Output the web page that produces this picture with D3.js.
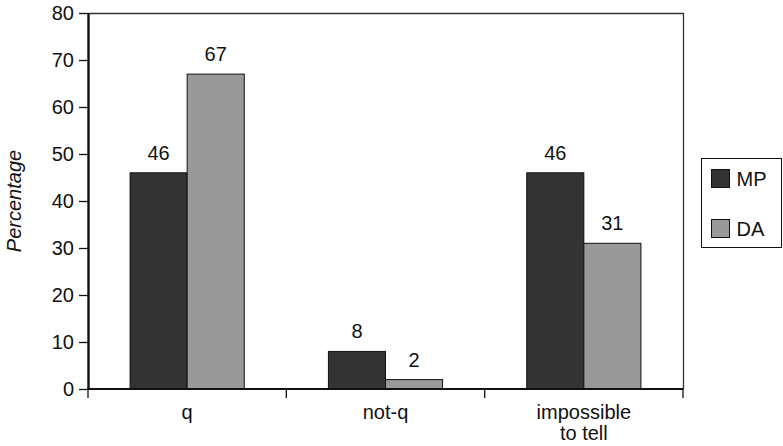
<!DOCTYPE html>
<html>
<head>
<meta charset="utf-8">
<script src="https://cdn.jsdelivr.net/npm/d3@7"></script>
<style>
  html, body { margin: 0; padding: 0; background: #fff; }
  svg { display: block; font-family: "Liberation Sans", Arial, sans-serif; }
</style>
</head>
<body>
<svg id="chart" width="783" height="446"></svg>
<script>
// Response percentages per answer category
const categories = ["q", "not-q", "impossible to tell"];
const categoryLines = [["q"], ["not-q"], ["impossible", "to tell"]];
const seriesNames = ["MP", "DA"];
const mpValues = [46, 8, 46];
const daValues = [67, 2, 31];
const yTicks = [0, 10, 20, 30, 40, 50, 60, 70, 80];
const colors = { MP: "#333333", DA: "#999999" };

const svg = d3.select("#chart");
const plotLeft = 88, plotRight = 683, plotTop = 13, plotBottom = 389;
const fontSize = 20;

const x = d3.scaleBand().domain(categories).range([plotLeft, plotRight]).paddingInner(0).paddingOuter(0);
const inner = d3.scaleBand().domain(seriesNames).range([0, x.bandwidth()]).paddingInner(0).paddingOuter(0.737);
const y = d3.scaleLinear().domain([0, 80]).range([plotBottom, plotTop]);

// Frame: top and right edges
svg.append("path")
  .attr("d", `M${plotLeft},${plotTop + 0.5}H${plotRight + 0.5}V${plotBottom}`)
  .attr("fill", "none").attr("stroke", "#333").attr("stroke-width", 1.3);

// Bars
const data = categories.map((c, i) => ({ cat: c, values: [
  { key: "MP", v: mpValues[i] }, { key: "DA", v: daValues[i] } ] }));

const groups = svg.append("g").selectAll("g").data(data).join("g")
  .attr("transform", d => `translate(${x(d.cat)},0)`);

groups.selectAll("rect").data(d => d.values).join("rect")
  .attr("x", d => inner(d.key))
  .attr("width", inner.bandwidth())
  .attr("y", d => y(d.v))
  .attr("height", d => y(0) - y(d.v))
  .attr("fill", d => colors[d.key])
  .attr("stroke", "#111").attr("stroke-width", 1);

groups.selectAll("text").data(d => d.values).join("text")
  .attr("x", d => inner(d.key) + inner.bandwidth() / 2)
  .attr("y", d => y(d.v) - 13)
  .attr("text-anchor", "middle")
  .attr("font-size", fontSize)
  .attr("fill", "#111")
  .text(d => d.v);

// Y axis
const yAxis = svg.append("g").attr("transform", `translate(${plotLeft},0)`)
  .call(d3.axisLeft(y).tickValues(yTicks).tickSize(9).tickPadding(5).tickSizeOuter(0));
yAxis.select(".domain").attr("stroke", "#111").attr("stroke-width", 2.4);
yAxis.selectAll(".tick line").attr("stroke", "#111").attr("stroke-width", 1.3);
yAxis.selectAll(".tick text").attr("font-size", fontSize).attr("fill", "#111")
  .attr("font-family", "Liberation Sans, Arial, sans-serif");

// X axis with ticks at category boundaries
const xAxisG = svg.append("g");
xAxisG.append("line").attr("x1", plotLeft - 1).attr("x2", plotRight + 0.5)
  .attr("y1", plotBottom).attr("y2", plotBottom)
  .attr("stroke", "#111").attr("stroke-width", 2);
const boundaries = categories.map(c => x(c)).concat([x(categories[categories.length - 1]) + x.bandwidth()]);
xAxisG.selectAll("line.b").data(boundaries).join("line").attr("class", "b")
  .attr("x1", d => d).attr("x2", d => d)
  .attr("y1", plotBottom).attr("y2", plotBottom + 9)
  .attr("stroke", "#111").attr("stroke-width", 1.3);

const xl = xAxisG.selectAll("text").data(categories).join("text")
  .attr("text-anchor", "middle")
  .attr("font-size", fontSize)
  .attr("fill", "#111")
  .attr("transform", d => `translate(${x(d) + x.bandwidth() / 2},${plotBottom + 30})`);
xl.selectAll("tspan").data((d, i) => categoryLines[i]).join("tspan")
  .attr("x", 0).attr("dy", (d, i) => i === 0 ? 0 : 21).text(d => d);

// Y axis title
svg.append("text")
  .attr("transform", `translate(21,${(plotTop + plotBottom) / 2}) rotate(-90)`)
  .attr("text-anchor", "middle")
  .attr("font-size", fontSize).attr("font-style", "italic").attr("fill", "#111")
  .text("Percentage");

// Legend
const legend = svg.append("g");
legend.append("rect").attr("x", 701.5).attr("y", 158.5).attr("width", 80).attr("height", 89)
  .attr("fill", "#fff").attr("stroke", "#111").attr("stroke-width", 1);
const items = legend.selectAll("g").data(seriesNames).join("g")
  .attr("transform", (d, i) => `translate(711.5,${169.5 + i * 50})`);
items.append("rect").attr("width", 18).attr("height", 18)
  .attr("fill", d => colors[d]).attr("stroke", "#111").attr("stroke-width", 1);
items.append("text").attr("x", 25).attr("y", 16.5)
  .attr("font-size", fontSize).attr("fill", "#111").text(d => d);
</script>
</body>
</html>
